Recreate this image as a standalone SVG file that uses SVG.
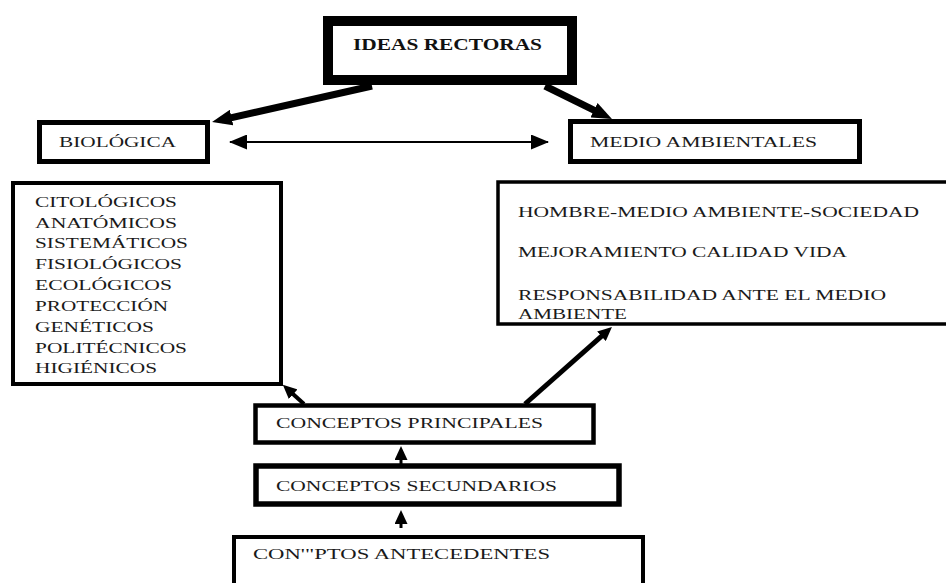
<svg xmlns="http://www.w3.org/2000/svg" width="946" height="583" viewBox="0 0 946 583">
<style>
.box{fill:#fff;stroke:#000}
.t{font-family:"Liberation Serif","Times New Roman",serif;font-size:15px;fill:#1a1a1a}
.tb{font-family:"Liberation Serif","Times New Roman",serif;font-size:16px;font-weight:bold;fill:#111}
.c{stroke:#000;fill:none}
</style>
<defs>
<marker id="mBig" markerUnits="userSpaceOnUse" viewBox="0 0 20 16" refX="10" refY="8" markerWidth="20" markerHeight="16" orient="auto"><path d="M0,0 L20,8 L0,16 z" fill="#000"/></marker>
<marker id="mMed" markerUnits="userSpaceOnUse" viewBox="0 0 14 13" refX="7" refY="6.5" markerWidth="14" markerHeight="13" orient="auto"><path d="M0,0 L14,6.5 L0,13 z" fill="#000"/></marker>
<marker id="mThin" markerUnits="userSpaceOnUse" viewBox="0 0 18 15" refX="17" refY="7.5" markerWidth="18" markerHeight="15" orient="auto-start-reverse"><path d="M0,0 L18,7.5 L0,15 z" fill="#000"/></marker>
</defs>
<rect width="946" height="583" fill="#fff"/>
<g id="connectors">
<line class="c" x1="372" y1="86" x2="221.8" y2="119.8" stroke-width="7" marker-end="url(#mBig)"/>
<line class="c" x1="545" y1="86" x2="603" y2="114.6" stroke-width="7" marker-end="url(#mBig)"/>
<line class="c" x1="230" y1="142" x2="548" y2="142" stroke-width="2" marker-start="url(#mThin)" marker-end="url(#mThin)"/>
<line class="c" x1="525" y1="404" x2="606.7" y2="331.6" stroke-width="5" marker-end="url(#mMed)"/>
<line class="c" x1="304" y1="404" x2="288" y2="389.5" stroke-width="4" marker-end="url(#mMed)"/>
<line class="c" x1="401" y1="464" x2="401" y2="453" stroke-width="3" marker-end="url(#mMed)"/>
<line class="c" x1="401" y1="528" x2="401" y2="517" stroke-width="3" marker-end="url(#mMed)"/>
</g>
<g id="ideas">
<rect class="box" x="328" y="21" width="244" height="59" stroke-width="10"/>
<text class="tb" x="353" y="50" textLength="189" lengthAdjust="spacingAndGlyphs">IDEAS RECTORAS</text>
</g>
<g id="biologica">
<rect class="box" x="39.5" y="122.5" width="168" height="39" stroke-width="5"/>
<text class="t" x="59" y="147" textLength="117" lengthAdjust="spacingAndGlyphs">BIOLÓGICA</text>
</g>
<g id="medio">
<rect class="box" x="570.5" y="121.5" width="289" height="40" stroke-width="5"/>
<text class="t" x="590" y="147" textLength="227" lengthAdjust="spacingAndGlyphs">MEDIO AMBIENTALES</text>
</g>
<g id="lista-biologica">
<rect class="box" x="13" y="183" width="268" height="201" stroke-width="4"/>
<text class="t" x="35" y="207" textLength="142" lengthAdjust="spacingAndGlyphs">CITOLÓGICOS</text>
<text class="t" x="35" y="228" textLength="142" lengthAdjust="spacingAndGlyphs">ANATÓMICOS</text>
<text class="t" x="35" y="248" textLength="153" lengthAdjust="spacingAndGlyphs">SISTEMÁTICOS</text>
<text class="t" x="35" y="269" textLength="147" lengthAdjust="spacingAndGlyphs">FISIOLÓGICOS</text>
<text class="t" x="35" y="290" textLength="137" lengthAdjust="spacingAndGlyphs">ECOLÓGICOS</text>
<text class="t" x="35" y="311" textLength="133" lengthAdjust="spacingAndGlyphs">PROTECCIÓN</text>
<text class="t" x="35" y="332" textLength="119" lengthAdjust="spacingAndGlyphs">GENÉTICOS</text>
<text class="t" x="35" y="353" textLength="152" lengthAdjust="spacingAndGlyphs">POLITÉCNICOS</text>
<text class="t" x="35" y="373" textLength="122" lengthAdjust="spacingAndGlyphs">HIGIÉNICOS</text>
</g>
<g id="lista-medio">
<rect class="box" x="498" y="182" width="460" height="142" stroke-width="3.5"/>
<text class="t" x="518" y="217" textLength="401" lengthAdjust="spacingAndGlyphs">HOMBRE-MEDIO AMBIENTE-SOCIEDAD</text>
<text class="t" x="518" y="257" textLength="329" lengthAdjust="spacingAndGlyphs">MEJORAMIENTO CALIDAD VIDA</text>
<text class="t" x="518" y="300" textLength="368" lengthAdjust="spacingAndGlyphs">RESPONSABILIDAD ANTE EL MEDIO</text>
<text class="t" x="518" y="319" textLength="109" lengthAdjust="spacingAndGlyphs">AMBIENTE</text>
</g>
<g id="principales">
<rect class="box" x="255.5" y="405.5" width="338" height="37" stroke-width="4.5"/>
<text class="t" x="276" y="428" textLength="267" lengthAdjust="spacingAndGlyphs">CONCEPTOS PRINCIPALES</text>
</g>
<g id="secundarios">
<rect class="box" x="256" y="466" width="363" height="38" stroke-width="5.5"/>
<text class="t" x="276" y="491" textLength="281" lengthAdjust="spacingAndGlyphs">CONCEPTOS SECUNDARIOS</text>
</g>
<g id="antecedentes">
<rect class="box" x="234" y="537" width="409" height="60" stroke-width="4"/>
<text class="t" x="253" y="559" textLength="297" lengthAdjust="spacingAndGlyphs">CON'"PTOS ANTECEDENTES</text>
</g>
</svg>
